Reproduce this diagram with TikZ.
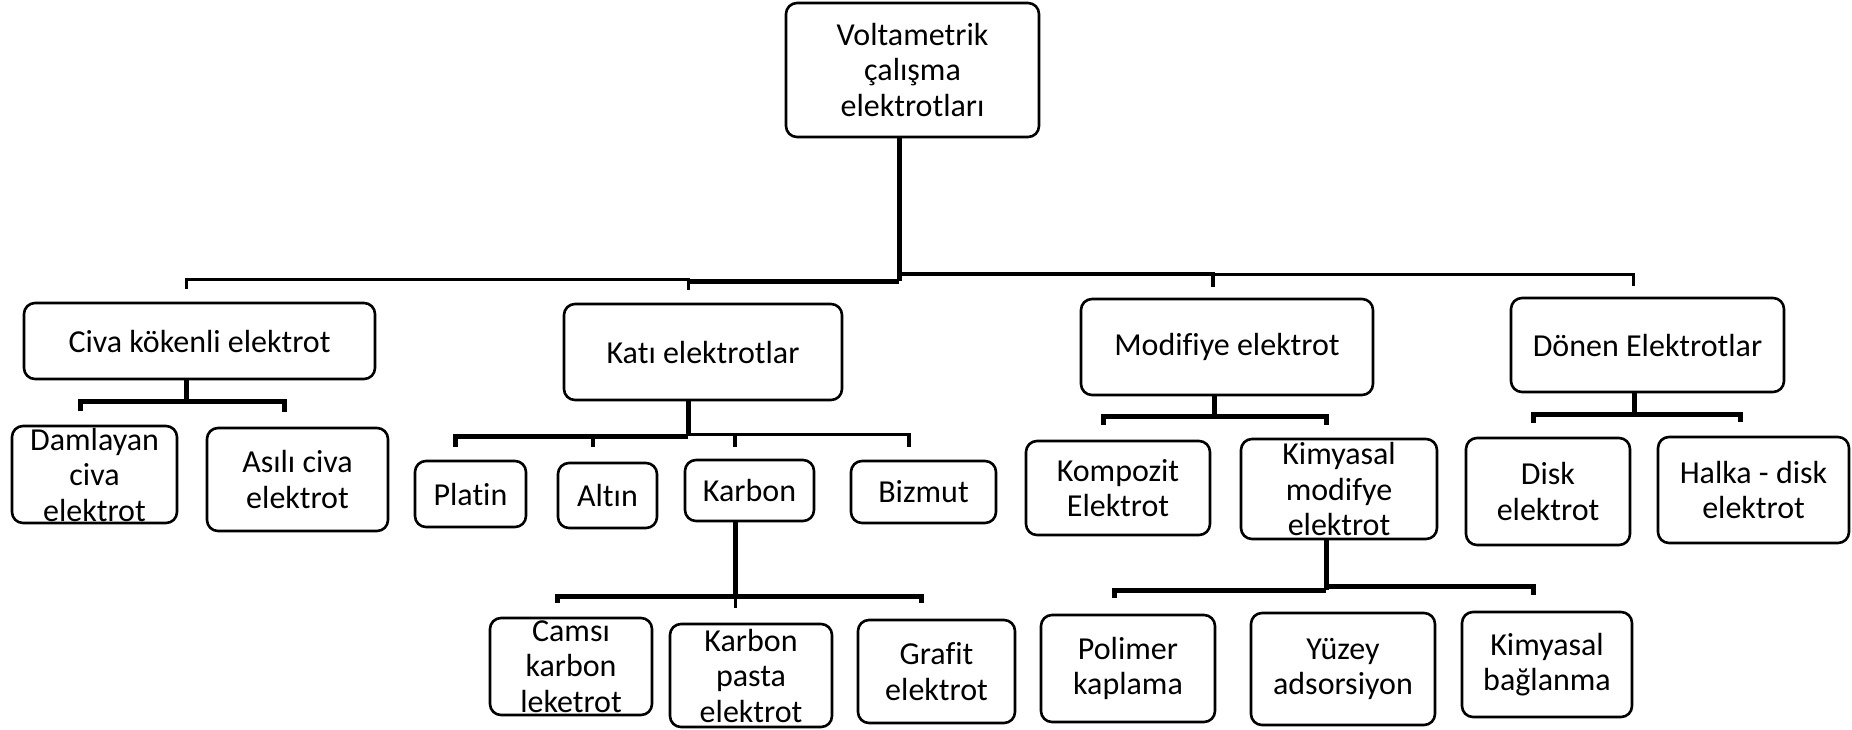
\documentclass[tikz,border=0pt]{standalone}
\usepackage{fontspec}
\setmainfont{Carlito}[Ligatures={NoCommon}]
\begin{document}
\begin{tikzpicture}[x=1pt,y=-1pt,
  box/.style={draw, line width=2.6pt, rounded corners=11pt, align=center, inner sep=0pt,
    font=\fontsize{32}{35.5}\selectfont},
  sz/.style 2 args={minimum width=#1pt, minimum height=#2pt},
  lwa/.style={line width=5pt},
  lwb/.style={line width=3.8pt},
  lwc/.style={line width=3pt}]
\useasboundingbox (0,0) rectangle (1852,729);
% level 1
\node[box, sz={253}{134}] (top) at (912.5,70) {Voltametrik\\çalışma\\elektrotları};
% level 2
\node[box, sz={351}{76}] (civa) at (199.5,341) {Civa kökenli elektrot};
\node[box, sz={278}{96}] (kati) at (703,352) {Katı elektrotlar};
\node[box, sz={292}{96}] (modif) at (1227,347) {Modifiye elektrot};
\node[box, sz={273}{94}] (donen) at (1647.5,345) {Dönen Elektrotlar};
% level 3
\node[box, sz={165}{97}] (damla) at (94.5,474.5) {Damlayan\\civa\\elektrot};
\node[box, sz={181}{103}] (asili) at (297.5,479.5) {Asılı civa\\elektrot};
\node[box, sz={111}{66}] (platin) at (470.5,494) {Platin};
\node[box, sz={99}{65}] (altin) at (607.5,495.5) {Altın};
\node[box, sz={129}{61}] (karbon) at (749.5,490.5) {Karbon};
\node[box, sz={145}{62}] (bizmut) at (923.5,492) {Bizmut};
\node[box, sz={184}{94}] (kompozit) at (1118,488) {Kompozit\\Elektrot};
\node[box, sz={196}{100}] (kimmod) at (1339,489) {Kimyasal\\modifye\\elektrot};
\node[box, sz={164}{107}] (disk) at (1548,491.5) {Disk\\elektrot};
\node[box, sz={191}{106}] (halka) at (1753.5,490) {Halka - disk\\elektrot};
% level 4
\node[box, sz={162}{97}] (camsi) at (571,666.5) {Camsı\\karbon\\leketrot};
\node[box, sz={162}{103}] (kpasta) at (751,675.5) {Karbon\\pasta\\elektrot};
\node[box, sz={157}{103}] (grafit) at (936.5,671.5) {Grafit\\elektrot};
\node[box, sz={174}{107}] (polimer) at (1128,668.5) {Polimer\\kaplama};
\node[box, sz={184}{112}] (yuzey) at (1343,669) {Yüzey\\adsorsiyon};
\node[box, sz={170}{105}] (kimbag) at (1547,664.5) {Kimyasal\\bağlanma};

% top-level connectors
\coordinate (tr) at (899,281);
\coordinate (dc1) at (186,289);
\coordinate (dc2) at (688,290);
\coordinate (dc3) at (1213,287);
\coordinate (dc4) at (1633,286);
\draw[lwa] (top.south -| tr) -- (tr);
\draw[lwc] (dc1) -- ++(0,-10) -| (dc2);
\draw[lwa] (tr) -- (tr -| dc2);
\draw[lwb] (tr) ++(0,-7) -| (dc3);
\draw[lwc] (dc3) ++(0,-13) -| (dc4);

% civa group
\coordinate (c0) at (186,401);
\coordinate (cd1) at (80,411);
\coordinate (cd2) at (284,412);
\draw[lwa] (civa.south -| c0) -- (c0);
\draw[lwa] (cd1) |- (c0) -| (cd2);

% kati group
\coordinate (k0) at (688,436);
\coordinate (kd1) at (455,447);
\coordinate (kd2) at (593,447);
\coordinate (kd3) at (735,447);
\coordinate (kd4) at (909,447);
\draw[lwa] (kati.south -| k0) -- (k0);
\draw[lwa] (kd1) |- (k0);
\draw[lwb] (k0) ++(0,-1.5) -| (kd4);
\draw[lwb] (kd2) -- (kd2 |- k0);
\draw[lwb] (kd3) -- (kd3 |- k0);

% karbon group
\coordinate (b0) at (735,596);
\coordinate (bd1) at (557,603);
\coordinate (bd2) at (735,608);
\coordinate (bd3) at (921,603);
\draw[lwa] (karbon.south -| b0) -- (b0);
\draw[lwa] (bd1) |- (b0) -| (bd3);
\draw[lwc] (b0) -- (bd2);

% modifiye group
\coordinate (m0) at (1214,416);
\coordinate (md1) at (1103,425);
\coordinate (md2) at (1326,425);
\draw[lwa] (modif.south -| m0) -- (m0);
\draw[lwa] (md1) |- (m0) -| (md2);

% kimyasal modifiye group
\coordinate (q0) at (1326,590);
\coordinate (qd1) at (1114,598);
\coordinate (qd2) at (1533,595);
\draw[lwa] (kimmod.south -| q0) -- (q0);
\draw[lwa] (qd1) |- (q0);
\draw[lwa] (q0) ++(0,-4) -| (qd2);

% donen group
\coordinate (n0) at (1634,414);
\coordinate (nd1) at (1533,423);
\coordinate (nd2) at (1740,422);
\draw[lwa] (donen.south -| n0) -- (n0);
\draw[lwa] (nd1) |- (n0) -| (nd2);
\end{tikzpicture}
\end{document}
